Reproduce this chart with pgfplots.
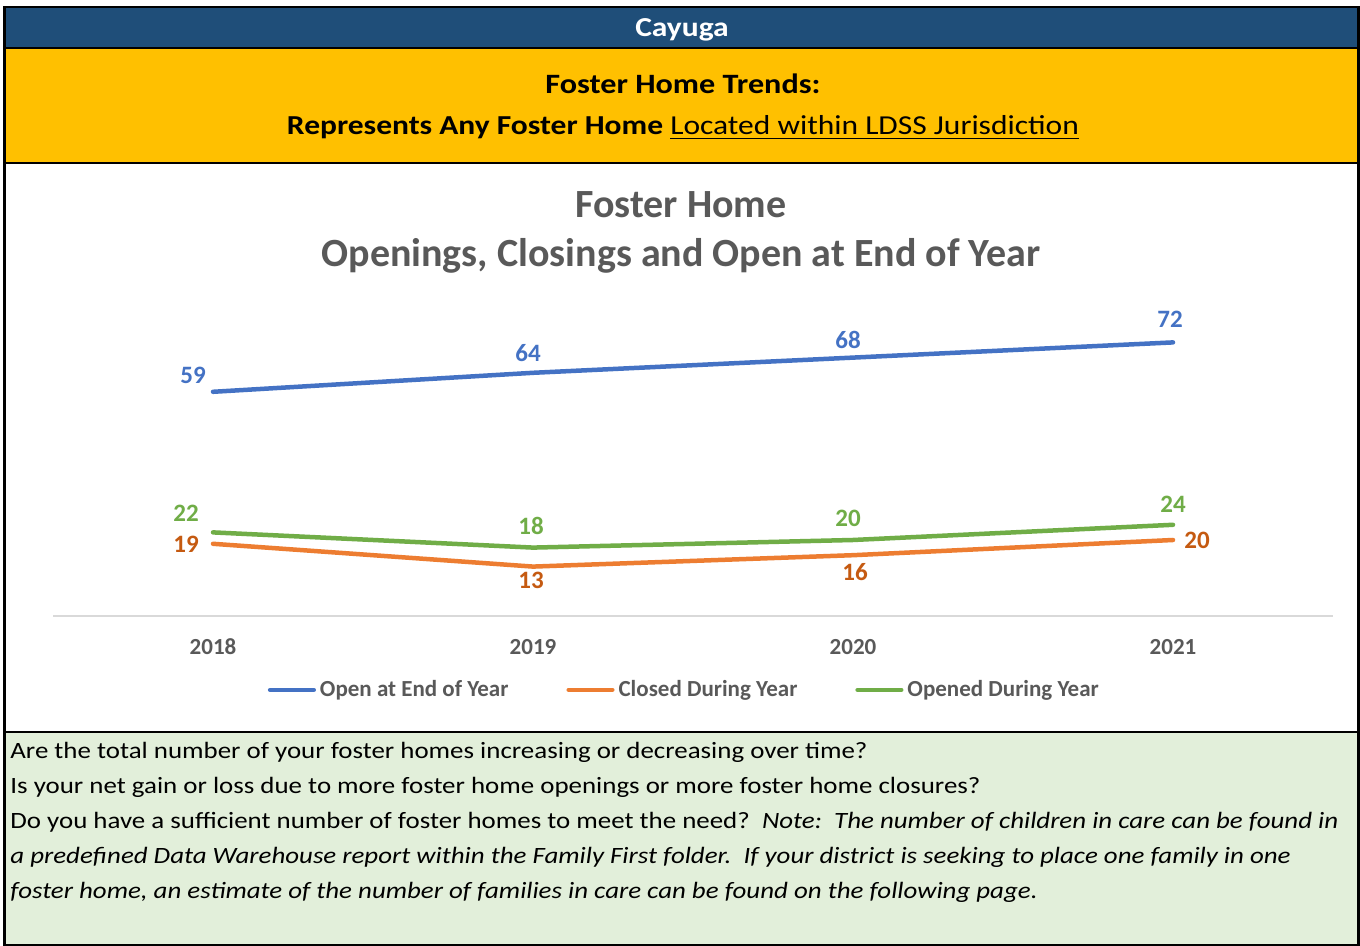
\documentclass[border=0pt]{standalone}
\usepackage{fontspec}
\setmainfont{Carlito}
\newfontfamily\sheetfont{Carlito}[FakeStretch=1.15]
\usepackage{pgfplots}
\pgfplotsset{compat=1.18}
\usepackage{pgfplotstable}
\definecolor{hdrblue}{HTML}{1F4E79}
\definecolor{hdryellow}{HTML}{FFC000}
\definecolor{notegreen}{HTML}{E2EFDA}
\definecolor{sBlue}{HTML}{4472C4}
\definecolor{sOrange}{HTML}{ED7D31}
\definecolor{sOrangeD}{HTML}{C55A11}
\definecolor{sGreen}{HTML}{70AD47}
\definecolor{txtgray}{HTML}{595959}
\definecolor{axgray}{HTML}{D9D9D9}

\pgfplotstableread{
x y
0 59
1 64
2 68
3 72
}\openT
\pgfplotstableread{
x y
0 19
1 13
2 16
3 20
}\closedT
\pgfplotstableread{
x y
0 22
1 18
2 20
3 24
}\openedT

% label offsets (px) per category
\def\bdx{{-20,-5,-5,-3}}
\def\bdy{{16,20,18,23}}
\def\odx{{-27,-2,2,24}}
\def\ody{{-1,-14,-17,0}}
\def\gdx{{-27,-2,-5,0}}
\def\gdy{{19,22,22,20}}

\pgfplotsset{
  lbl/.style n args={3}{
    nodes near coords,
    visualization depends on={rawx \as \xi},
    every node near coord/.append style={anchor=center,
       xshift=#2[int(\xi)]*0.5pt, yshift=#3[int(\xi)]*0.5pt,
       font=\bfseries\fontsize{12.5}{15}\selectfont, inner sep=0pt, text=#1},
  },
}

\begin{document}
\begin{tikzpicture}[x=0.5pt,y=0.5pt]
\fill[white] (0,0) rectangle (1360,946);
\useasboundingbox (0,0) rectangle (1360,946);
% bands
\fill[hdrblue] (5,939) rectangle (1358,898);
\fill[hdryellow] (5,898) rectangle (1358,783);
\fill[notegreen] (5,214) rectangle (1358,1);
\draw[black, line width=1.2pt] (4.5,939) rectangle (1358.5,1);
\draw[black, line width=1.2pt] (4.5,898) -- (1358.5,898);
\draw[black, line width=1.2pt] (4.5,783) -- (1358.5,783);
\draw[black, line width=1.2pt] (4.5,214) -- (1358.5,214);
% header text
\node[anchor=base, text=white, font=\sheetfont\bfseries\fontsize{13.7}{16}\selectfont, inner sep=0pt] at (682,946-37) {Cayuga};
\node[anchor=base, font=\sheetfont\bfseries\fontsize{14}{17}\selectfont, inner sep=0pt] at (683,946-94) {Foster Home Trends:};
\node[anchor=base, font=\sheetfont\fontsize{13.7}{17}\selectfont, inner sep=0pt] at (683,946-135) {\textbf{Represents Any Foster Home} \underline{Located within LDSS Jurisdiction}};
% chart title
\node[anchor=base, text=txtgray, font=\bfseries\fontsize{20}{24}\selectfont, inner sep=0pt] at (681,946-218) {Foster Home};
\node[anchor=base, text=txtgray, font=\bfseries\fontsize{20}{24}\selectfont, inner sep=0pt] at (681,946-267) {Openings, Closings and Open at End of Year};

\begin{axis}[
  at={(26.5pt,165pt)}, anchor=south west,
  scale only axis, width=640pt, height=152pt,
  xmin=-0.5, xmax=3.5, ymin=0, ymax=80,
  axis y line=none, axis x line*=bottom,
  axis line style={axgray, line width=0.75pt},
  xtick={0,1,2,3}, xticklabels={2018,2019,2020,2021},
  major tick length=0pt,
  xticklabel style={anchor=base, yshift=-19.5pt, text=txtgray, font=\bfseries\fontsize{11.5}{14}\selectfont},
  clip=false,
  /pgf/number format/assume math mode=true,
  legend style={at={(0.494,-0.243)}, anchor=center, draw=none, fill=none, legend columns=3,
     font=\bfseries\fontsize{11.5}{14}\selectfont, text=txtgray, inner xsep=0pt,
     /tikz/every even column/.append style={column sep=27pt}},
  legend image code/.code={\draw[#1, line width=2.25pt, line cap=round] (1.1pt,0pt) -- (22.9pt,0pt);},
]
\addlegendimage{sBlue}
\addlegendentry{Open at End of Year}
\addlegendimage{sOrange}
\addlegendentry{Closed During Year}
\addlegendimage{sGreen}
\addlegendentry{Opened During Year}
\addplot[forget plot, sBlue, line width=2.25pt, line cap=round, line join=round, lbl={sBlue}{\bdx}{\bdy}] table[x=x, y=y, meta=y] {\openT};
\addplot[forget plot, sOrange, line width=2.25pt, line cap=round, line join=round, lbl={sOrangeD}{\odx}{\ody}] table[x=x, y=y, meta=y] {\closedT};
\addplot[forget plot, sGreen, line width=2.25pt, line cap=round, line join=round, lbl={sGreen}{\gdx}{\gdy}] table[x=x, y=y, meta=y] {\openedT};
\end{axis}

% notes
\begin{scope}[every node/.style={anchor=base west, inner sep=0pt, font=\sheetfont\fontsize{11.7}{14}\selectfont}]
\node at (10,946-759) {Are the total number of your foster homes increasing or decreasing over time?};
\node at (10,946-794) {Is your net gain or loss due to more foster home openings or more foster home closures?};
\node at (10,946-829) {Do you have a sufficient number of foster homes to meet the need?\ \ \textit{Note:\ \ The number of children in care can be found in}};
\node at (10,946-864) {\textit{a predefined Data Warehouse report within the Family First folder.\ \ If your district is seeking to place one family in one}};
\node at (10,946-899) {\textit{foster home, an estimate of the number of families in care can be found on the following page.}};
\end{scope}
\end{tikzpicture}
\end{document}
